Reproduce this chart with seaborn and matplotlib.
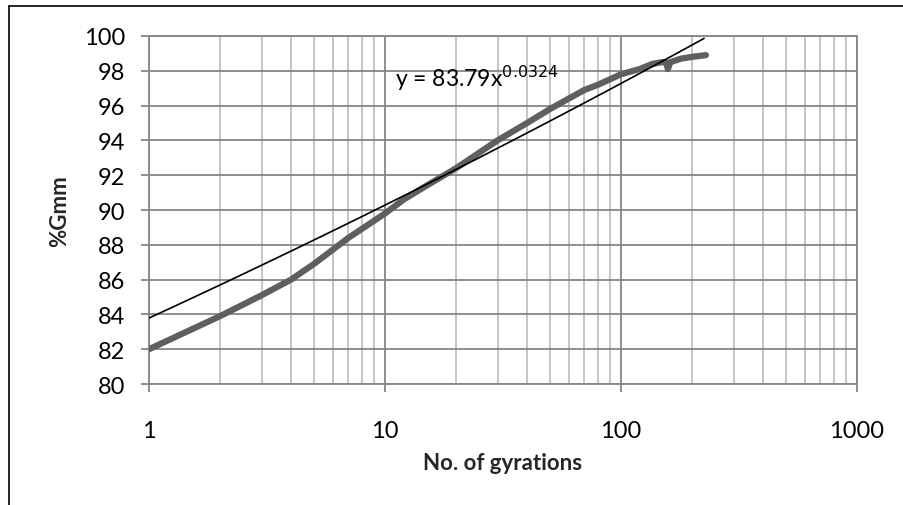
import numpy as np
import matplotlib
matplotlib.use("Agg")
import matplotlib.pyplot as plt
from matplotlib.lines import Line2D
from matplotlib.ticker import LogLocator, FixedLocator, NullFormatter
import seaborn as sns

# data
gyrations = [1, 2, 3, 4, 5, 7, 10, 12, 15, 20, 30, 40, 50, 60, 70, 80,
             100, 120, 136, 150, 155, 158, 162, 180, 200, 229]
gmm = [82.0, 83.9, 85.1, 86.0, 86.9, 88.4, 89.8, 90.6, 91.4, 92.4, 94.0,
       95.0, 95.8, 96.4, 96.9, 97.2, 97.8, 98.1, 98.4, 98.5, 98.5, 98.1,
       98.5, 98.7, 98.8, 98.9]
coef_a = 83.79
coef_b = 0.0324
trend_x = [1, 225]

sns.set_theme(style="white")
plt.rcParams['font.family'] = ['Lato', 'DejaVu Sans']

fig = plt.figure(figsize=(9.04, 5.06), dpi=100)
ax = fig.add_axes([0.1648, 0.2391, 0.948 - 0.1648, 0.9269 - 0.2391])

sns.lineplot(x=gyrations, y=gmm, ax=ax, color='#5f5f5f', linewidth=4.5,
             solid_capstyle='round', zorder=3)
tx = np.geomspace(trend_x[0], trend_x[1], 100)
sns.lineplot(x=tx, y=coef_a * tx ** coef_b, ax=ax, color='black',
             linewidth=1.2, zorder=4)

ax.set_xscale('log')
ax.set_xlim(1, 1000)
ax.set_ylim(80, 100)
ax.set_yticks(np.arange(80, 101, 2))
ax.xaxis.set_major_locator(FixedLocator([1, 10, 100, 1000]))
ax.set_xticklabels(['1', '10', '100', '1000'])
ax.xaxis.set_minor_locator(LogLocator(base=10, subs=np.arange(2, 10)))
ax.xaxis.set_minor_formatter(NullFormatter())

ax.grid(which='major', color='#868686', linewidth=1.3)
ax.grid(which='minor', axis='x', color='#c0c0c0', linewidth=1.3)
ax.set_axisbelow(True)
for s in ax.spines.values():
    s.set_color('#868686')
    s.set_linewidth(1.3)

ax.tick_params(axis='both', which='major', labelsize=17, colors='#868686',
               labelcolor='black', length=6, width=1.3, direction='out')
ax.tick_params(axis='x', which='minor', length=0)
ax.tick_params(axis='x', which='major', pad=20)
ax.tick_params(axis='y', which='major', pad=11)
ax.xaxis.set_ticks_position('bottom')
ax.yaxis.set_ticks_position('left')

ax.set_xlabel('No. of gyrations', fontsize=16, fontweight='bold', labelpad=8)
ax.set_ylabel('%Gmm', fontsize=16, fontweight='bold', labelpad=10)

ax.text(11, 97.6, r'y = 83.79x$^{0.0324}$', fontsize=16.5, color='black',
        ha='left', va='center')

# chart frame
fig.add_artist(Line2D([0.0105, 0.0105], [0.0, 0.986], transform=fig.transFigure,
                      color='black', linewidth=1.2))
fig.add_artist(Line2D([0.0105, 1.0], [0.986, 0.986], transform=fig.transFigure,
                      color='black', linewidth=1.2))

fig.savefig('out.png', dpi=100)
